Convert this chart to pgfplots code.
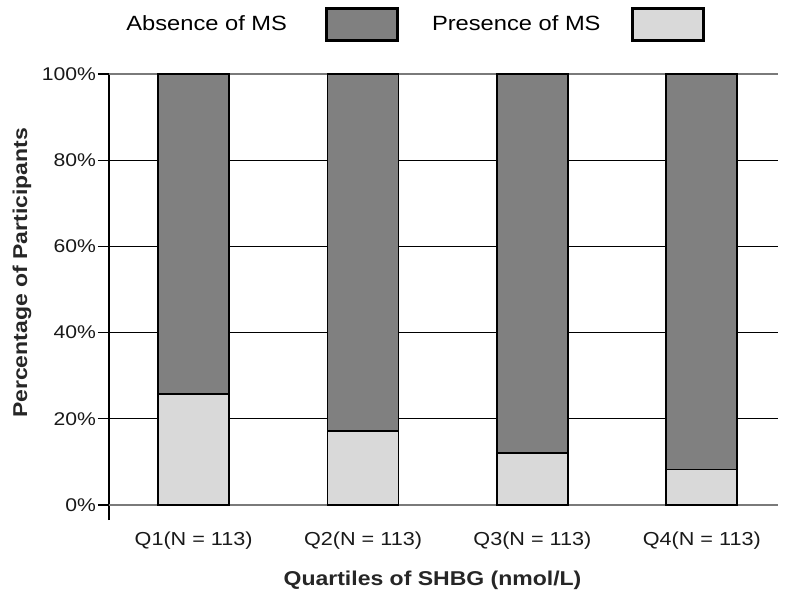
\documentclass[border=0pt]{standalone}
\usepackage{pgfplots}
\pgfplotsset{compat=1.18}
\usepackage{fontspec}
\setmainfont[FakeStretch=1.15]{Liberation Sans}
\definecolor{absence}{HTML}{808080}
\definecolor{presence}{HTML}{D9D9D9}
\definecolor{gridgray}{HTML}{7A7A7A}
\begin{document}
\begin{tikzpicture}
\useasboundingbox (-54.5pt,-41pt) rectangle (345.5pt,260pt);
\begin{axis}[
  at={(0,0)}, anchor=south west,
  scale only axis, width=334.5pt, height=223pt,
  xmin=-0.5, xmax=3.45, ymin=-3.5, ymax=100,
  clip=false,
  ybar stacked, bar width=35.5pt,
  axis x line*=bottom, axis y line*=left,
  x axis line style={draw=none},
  y axis line style={black, line width=0.75pt, -},
  tick align=outside, major tick length=5.5pt,
  xtick={0,1,2,3},
  xticklabels={Q1(N = 113), Q2(N = 113), Q3(N = 113), Q4(N = 113)},
  xtick style={draw=none},
  xticklabel style={yshift=3pt, font=\fontsize{9.4}{11}\selectfont},
  ytick={20,40,60,80}, yticklabels={20\%,40\%,60\%,80\%},
  extra y ticks={0,100}, extra y tick labels={0\%,100\%},
  yticklabel style={xshift=2.5pt, font=\fontsize{9.2}{11}\selectfont},
  ymajorgrids,
  grid style={black, line width=0.6pt},
  ytick style={black, line width=0.6pt},
  extra y tick style={grid style={gridgray, line width=1.4pt}, tick style={gridgray, line width=1.4pt}},
  ticklabel style={text=black!90},
  xlabel={Quartiles of SHBG (nmol/L)},
  ylabel={Percentage of Participants},
  label style={font=\bfseries\fontsize{10}{12}\selectfont, text=black!85},
  xlabel style={at={(axis description cs:0.4836,-0.1345)}, anchor=center},
  ylabel style={at={(axis description cs:-0.130,0.554)}, anchor=center, rotate=0},
  legend columns=2,
  reverse legend,
  legend plot pos=right,
  legend image code/.code={\draw[#1, line width=1.5pt] (0pt,-8pt) rectangle (35.5pt,8pt);},
  legend style={at={(axis description cs:0,1)}, anchor=south west,
    xshift=3.5pt, yshift=14pt, draw=none, fill=none,
    font=\fontsize{10.3}{12}\selectfont,
    /tikz/column 1/.style={column sep=17pt},
    /tikz/column 2/.style={column sep=14.5pt},
    /tikz/column 3/.style={column sep=13pt}},
]
\addplot[fill=presence, draw=black, line width=0.9pt] coordinates {(0,25.7) (1,17.2) (2,12.0) (3,8.2)};
\addplot[fill=absence, draw=black, line width=0.9pt] coordinates {(0,74.3) (1,82.8) (2,88.0) (3,91.8)};
\legend{Presence of MS, Absence of MS}
\end{axis}
\end{tikzpicture}
\end{document}
